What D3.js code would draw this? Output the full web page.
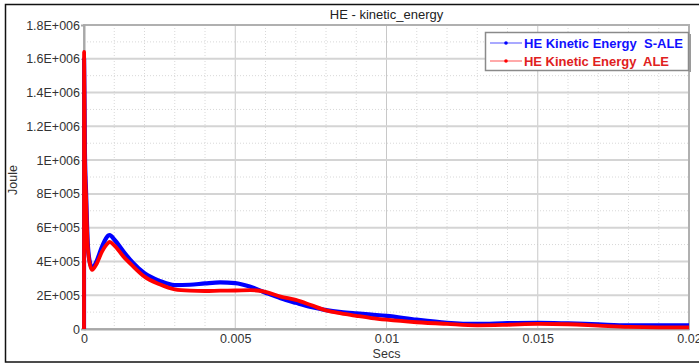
<!DOCTYPE html>
<html>
<head>
<meta charset="utf-8">
<script src="https://cdn.jsdelivr.net/npm/d3@7/dist/d3.min.js"></script>
<style>
  html, body { margin: 0; padding: 0; background: #fff; }
  svg { display: block; font-family: "Liberation Sans", Arial, sans-serif; }
  .legend-text { white-space: pre; }
</style>
</head>
<body>
<svg id="chart" width="699" height="364"></svg>
<script>
// Time samples (s) and kinetic energy (J) for the two HE runs
const timeS = [0, 0.000003, 0.00003, 0.00007, 0.0001, 0.00013, 0.0002, 0.00027, 0.0004, 0.0006, 0.0008,
  0.00085, 0.001, 0.0013, 0.0016, 0.002, 0.0025, 0.003, 0.0035, 0.004, 0.0045, 0.005, 0.0055, 0.006, 0.0065,
  0.007, 0.0075, 0.008, 0.0085, 0.009, 0.0095, 0.01, 0.011, 0.012, 0.013, 0.014, 0.015, 0.016,
  0.017, 0.018, 0.019, 0.02];
const keSALE = [0, 1600000, 1050000, 800000, 620000, 490000, 390000, 360000, 395000, 490000, 553000,
  556000, 530000, 460000, 395000, 330000, 285000, 260000, 262000, 270000, 276000, 272000, 250000, 215000, 182000,
  155000, 130000, 112000, 100000, 92000, 85000, 78000, 55000, 37000, 30000, 35000, 37000, 33000,
  27000, 22000, 22000, 22000];
const keALE = [0, 1640000, 1000000, 770000, 590000, 470000, 380000, 350000, 380000, 460000, 510000,
  516000, 495000, 430000, 375000, 310000, 265000, 235000, 227000, 225000, 227000, 228000, 230000, 220000, 192000,
  172000, 142000, 110000, 92000, 78000, 65000, 55000, 40000, 30000, 22000, 25000, 30000, 28000,
  20000, 12000, 10000, 10000];

const seriesNames = ["HE Kinetic Energy  S-ALE", "HE Kinetic Energy  ALE"];
const seriesColors = ["#0000ff", "#ff0000"];
const legendLineColors = ["#7070ff", "#ff7070"];
const xTicks = [0, 0.005, 0.01, 0.015, 0.02];
const xTickLabels = ["0", "0.005", "0.01", "0.015", "0.02"];
const yTicks = [0, 200000, 400000, 600000, 800000, 1000000, 1200000, 1400000, 1600000, 1800000];
const yTickLabels = ["0", "2E+005", "4E+005", "6E+005", "8E+005", "1E+006", "1.2E+006", "1.4E+006", "1.6E+006", "1.8E+006"];
const chartTitle = "HE - kinetic_energy";
const xTitle = "Secs";
const yTitle = "Joule";

const svg = d3.select("#chart");
const plot = { left: 84, right: 689, top: 25, bottom: 329 };

const x = d3.scaleLinear().domain([0, 0.02]).range([plot.left, plot.right]);
const y = d3.scaleLinear().domain([0, 1800000]).range([plot.bottom, plot.top]);

// outer frame
svg.append("rect")
  .attr("x", 5.5).attr("y", 4.5).attr("width", 720).attr("height", 357.5)
  .attr("fill", "none").attr("stroke", "#111").attr("stroke-width", 1.5);

// minor grid
const minorX = d3.range(0.001, 0.02, 0.001).filter(v => Math.abs(v / 0.005 - Math.round(v / 0.005)) > 1e-6);
const minorY = d3.range(100000, 1800000, 200000);
svg.append("g").selectAll("line").data(minorX).join("line")
  .attr("x1", d => x(d)).attr("x2", d => x(d))
  .attr("y1", plot.top).attr("y2", plot.bottom)
  .attr("stroke", "#d8d8d8").attr("stroke-width", 1).attr("stroke-dasharray", "1,2");
svg.append("g").selectAll("line").data(minorY).join("line")
  .attr("x1", plot.left).attr("x2", plot.right)
  .attr("y1", d => y(d)).attr("y2", d => y(d))
  .attr("stroke", "#d8d8d8").attr("stroke-width", 1).attr("stroke-dasharray", "1,2");

// major grid
svg.append("g").selectAll("line").data(xTicks.slice(1, -1)).join("line")
  .attr("x1", d => x(d)).attr("x2", d => x(d))
  .attr("y1", plot.top).attr("y2", plot.bottom)
  .attr("stroke", "#c8c8c8").attr("stroke-width", 1);
svg.append("g").selectAll("line").data(yTicks.slice(1, -1)).join("line")
  .attr("x1", plot.left).attr("x2", plot.right)
  .attr("y1", d => y(d)).attr("y2", d => y(d))
  .attr("stroke", "#d4d4d4").attr("stroke-width", 2);

// plot frame
svg.append("rect")
  .attr("x", plot.left).attr("y", plot.top)
  .attr("width", plot.right - plot.left).attr("height", plot.bottom - plot.top)
  .attr("fill", "none").attr("stroke", "#b0b0b0").attr("stroke-width", 2);

// axes
const xAxis = d3.axisBottom(x).tickValues(xTicks)
  .tickFormat((d, i) => xTickLabels[i]).tickSize(0).tickPadding(5);
const gx = svg.append("g").attr("transform", `translate(0,${plot.bottom})`).call(xAxis);
gx.select(".domain").attr("stroke", "#a8a8a8").attr("stroke-width", 2);
gx.selectAll("text").attr("font-size", 12.5).attr("fill", "#333").attr("font-family", "Liberation Sans, Arial, sans-serif");

const yAxis = d3.axisLeft(y).tickValues(yTicks)
  .tickFormat((d, i) => yTickLabels[i]).tickSize(3).tickPadding(1);
const gy = svg.append("g").attr("transform", `translate(${plot.left},0)`).call(yAxis);
gy.select(".domain").attr("stroke", "#a8a8a8").attr("stroke-width", 2);
gy.selectAll(".tick line").attr("stroke", "#a8a8a8");
gy.selectAll("text").attr("font-size", 12.5).attr("fill", "#333").attr("font-family", "Liberation Sans, Arial, sans-serif");

// titles
svg.append("text").attr("x", x(0.01)).attr("y", 19).attr("text-anchor", "middle")
  .attr("font-size", 13).attr("fill", "#222").text(chartTitle);
svg.append("text").attr("x", x(0.01)).attr("y", 358).attr("text-anchor", "middle")
  .attr("font-size", 12.5).attr("fill", "#333").text(xTitle);
svg.append("text").attr("transform", "translate(17,180) rotate(-90)").attr("text-anchor", "middle")
  .attr("font-size", 12.5).attr("fill", "#333").text(yTitle);

// curves
const line = d3.line().x((d, i) => x(timeS[i])).y(d => y(d)).curve(d3.curveMonotoneX);
const seriesData = [keSALE, keALE];
svg.append("clipPath").attr("id", "plotClip")
  .append("rect").attr("x", plot.left - 2).attr("y", plot.top).attr("width", plot.right - plot.left + 2).attr("height", plot.bottom - plot.top + 2);
const curves = svg.append("g").attr("clip-path", "url(#plotClip)");
seriesData.forEach((vals, k) => {
  curves.append("path").datum(vals)
    .attr("d", line)
    .attr("fill", "none")
    .attr("stroke", seriesColors[k])
    .attr("stroke-width", k === 0 ? 4.2 : 3.8)
    .attr("stroke-linejoin", "round");
});

// legend
const legendTextWidths = [159, 145];
const lg = svg.append("g").attr("transform", "translate(485,32)");
lg.append("rect").attr("x", 0.5).attr("y", 0.5).attr("width", 203).attr("height", 38)
  .attr("fill", "#fff").attr("stroke", "#8a8a8a").attr("stroke-width", 1.5);
lg.append("line").attr("x1", 205).attr("x2", 205).attr("y1", 2).attr("y2", 40)
  .attr("stroke", "#9a9a9a").attr("stroke-width", 2);
seriesNames.forEach((name, k) => {
  const yy = 11 + k * 18;
  lg.append("line").attr("x1", 5).attr("x2", 37).attr("y1", yy).attr("y2", yy)
    .attr("stroke", legendLineColors[k]).attr("stroke-width", 1.2);
  lg.append("circle").attr("cx", 21).attr("cy", yy).attr("r", 1.8).attr("fill", seriesColors[k]);
  lg.append("text").attr("class", "legend-text").attr("x", 39).attr("y", yy + 4.5)
    .attr("font-size", 13).attr("font-weight", "bold")
    .attr("textLength", legendTextWidths[k]).attr("lengthAdjust", "spacing")
    .attr("fill", k === 0 ? "#1010ff" : "#e02020").text(name);
});
</script>
</body>
</html>
